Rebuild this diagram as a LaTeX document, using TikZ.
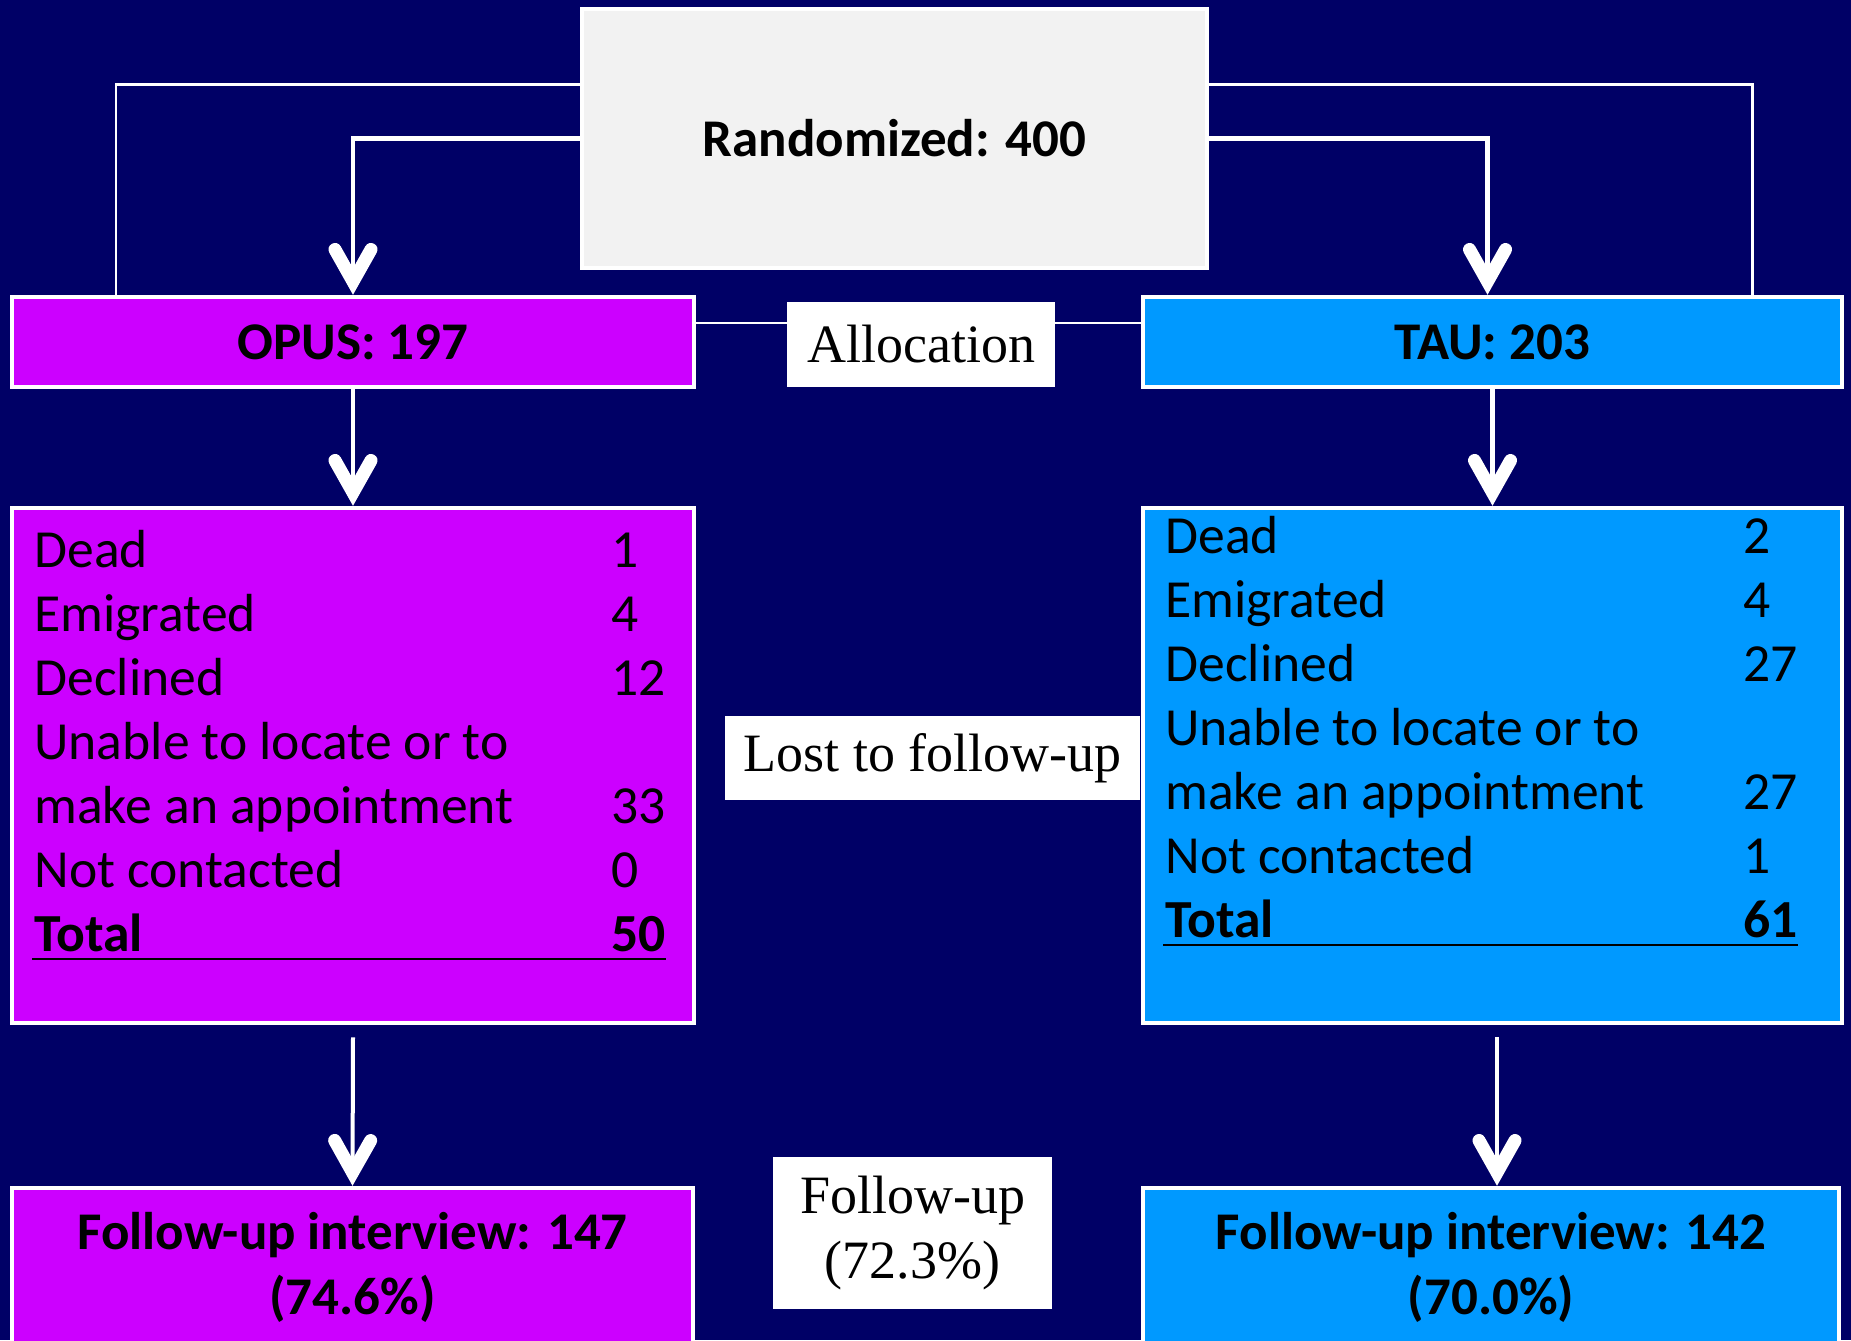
\documentclass[tikz,border=0pt]{standalone}
\usepackage{fontspec}
\setmainfont{Carlito}
\newfontfamily\timesfont{Liberation Serif}
\usetikzlibrary{arrows.meta}

\definecolor{navy}{RGB}{0,0,102}
\definecolor{opuspurple}{RGB}{204,0,255}
\definecolor{taublue}{RGB}{0,153,255}
\definecolor{randgray}{RGB}{242,242,242}

\tikzset{
  box/.style={draw=white, line width=2.25pt, inner sep=0pt, text=black},
  tagbox/.style={fill=white, inner sep=0pt, text=black, align=center,
    font=\timesfont\fontsize{27}{32.5}\selectfont},
  big/.style={font=\bfseries\fontsize{26.5}{32.5}\selectfont, align=center},
  listtext/.style={anchor=base west, inner sep=0pt, text=black,
    font=\fontsize{26.8}{32}\selectfont},
  listbold/.style={listtext, font=\bfseries\fontsize{26.8}{32}\selectfont},
  arr/.style={white, line width=2.25pt,
    -{Straight Barb[length=16pt, width=18pt, line width=6.5pt, line cap=round, line join=miter]}},
  link/.style={white, line width=1.25pt},
  uline/.style={black, line width=1.25pt},
}

\begin{document}
\begin{tikzpicture}[x=0.5pt, y=-0.5pt]
\fill[navy] (0,0) rectangle (1851,1340);
\useasboundingbox (0,0) rectangle (1851,1340);

% top row
\node[box, fill=randgray, minimum width=312.5pt, minimum height=129.5pt, big] (rand) at (894.5,138.5) {Randomized: 400};
\node[box, fill=opuspurple, minimum width=341pt, minimum height=45pt, big] (opus) at (353,342) {OPUS: 197};
\node[box, fill=taublue, minimum width=349.5pt, minimum height=45pt, big] (tau) at (1492.5,342) {TAU: 203};
\node[tagbox, minimum width=134pt, minimum height=42.5pt] (alloc) at (921,344.5) {Allocation};

% lost to follow-up
\node[box, fill=opuspurple, minimum width=341pt, minimum height=257.5pt] (opuslost) at (353,765.5) {};
\node[box, fill=taublue, minimum width=349.5pt, minimum height=257.5pt] (taulost) at (1492.5,765.5) {};
\node[tagbox, minimum width=207.5pt, minimum height=42pt] (lost) at (932.5,758) {Lost to follow-up};

\foreach \lab/\num [count=\i from 0] in {Dead/1, Emigrated/4, Declined/12, Unable to locate or to/{}, make an appointment/33, Not contacted/0}
{
  \node[listtext] (ol\i) at (34,{567+64*\i}) {\lab};
  \node[listtext] (on\i) at (611,{567+64*\i}) {\num};
}
\node[listbold] (oltot) at (34,951) {Total};
\node[listbold] (ontot) at (611,951) {50};
\draw[uline] ([xshift=-1pt,yshift=-4pt]oltot.base west) -- ([yshift=-4pt]ontot.base east);

\foreach \lab/\num [count=\i from 0] in {Dead/2, Emigrated/4, Declined/27, Unable to locate or to/{}, make an appointment/27, Not contacted/1}
{
  \node[listtext] (tl\i) at (1165,{553+64*\i}) {\lab};
  \node[listtext] (tn\i) at (1743,{553+64*\i}) {\num};
}
\node[listbold] (tltot) at (1165,937) {Total};
\node[listbold] (tntot) at (1743,937) {61};
\draw[uline] ([xshift=-1pt,yshift=-4pt]tltot.base west) -- ([yshift=-4pt]tntot.base east);

% follow-up
\node[box, fill=opuspurple, minimum width=340.5pt, minimum height=79pt, big] (opusfu) at (352.5,1267) {Follow-up interview: 147\\(74.6\%)};
\node[box, fill=taublue, minimum width=348pt, minimum height=79pt, big] (taufu) at (1491,1267) {Follow-up interview: 142\\(70.0\%)};
\node[tagbox, minimum width=139.5pt, minimum height=76pt] (fu) at (912.5,1233) {Follow-up\\(72.3\%)};

% connectors
\draw[link] ([yshift=27pt]rand.west) -| ([xshift=53pt]opus.north west);
\draw[link] ([yshift=27pt]rand.east) -| ([xshift=-46pt]tau.north east);
\draw[arr] (rand.west) -| (opus.north);
\draw[arr] (rand.east) -| ([xshift=-2.5pt]tau.north);
\draw[link] ([yshift=9.5pt]opus.east) -- ([yshift=10.75pt]alloc.west);
\draw[link] ([yshift=10.75pt]alloc.east) -- ([yshift=9.5pt]tau.west);
\draw[arr] (opus.south) -- (opuslost.north);
\draw[arr] (tau.south) -- (taulost.north);
\draw[arr, line width=2pt] ([yshift=-6pt]opuslost.south) -- (opusfu.north);
\draw[arr, line width=2pt] ([xshift=2.25pt,yshift=-6pt]taulost.south) -- ([xshift=3pt]taufu.north);
\end{tikzpicture}
\end{document}
